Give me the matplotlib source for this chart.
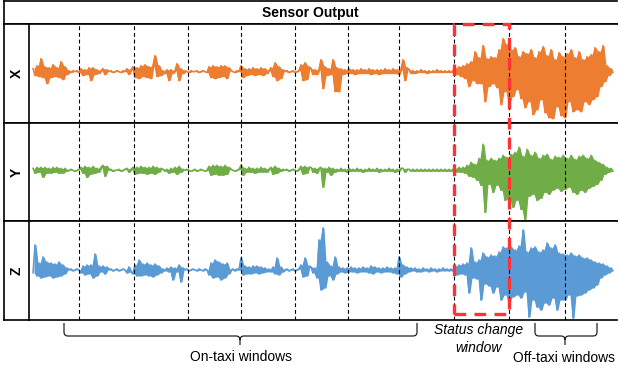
import matplotlib

matplotlib.use("Agg")

import matplotlib.pyplot as plt
import matplotlib.transforms as mtransforms
import numpy as np
from matplotlib.patches import PathPatch, Rectangle
from matplotlib.path import Path

plt.rcParams["font.family"] = ["Liberation Sans", "DejaVu Sans"]

# sensor traces, one sample every step, offset from the resting level
sensor_x = [
    3, -4, 6, -5, 13, -6, 5, -12, 4, -6, 7, -5, 4, -6, 10, -8, 5, -3,
    1, -1, 1, 0, 1, -1,
    3, -4, 2, -3, 4, -9, 4, -3, 2, -2, 1,
    3, -3, 2,
    0, 1, -1, 0, 1, 0, -1, 1, 0,
    3, -3, 2,
    5, -6, 4, -7, 6, -5, 7, -6, 5, -7, 6, 16, -5, 6, -4,
    1, -2, 2, -9, 2, -2, 1, 8, -9, 3, -2,
    1, 0, -1, 1, 0, 0, 1, -1, 0, 1, 0, -1,
    5, -6, 6, -7, 5, -6, 6, -5, 6, -7, 4,
    1, 0, -1, 1, 0,
    6, -6, 3, -4, 3, -3, 4, -4, 3, -3, 4, -4, 3, -2, 1,
    4, -5, 9, -9, 5, -7, 2,
    0, 1, -1, 0, 1, -1, 0, 1,
    7, -9, 9, -8, 5,
    3, -3, 2, -3, 2,
    12, -17, 5, -4, 3, -3, 12, -20, 4, -20,
    3, -3, 2, -2, 3, -2, 2, -3, 2, -2, 3, -2, 2, -2, 3, -3, 2, -2, 2, -3,
    2, -2, 3, -2, 2, -2, 3, -2, 2, -3, 2,
    12, -9, 4,
    2, -2, 1, -2, 1, -1, 2, -1, 1, -2, 1, -1, 1, -1, 2, -1, 1, -1, 1, -1, 1, -1, 1,
    4, -3, 5, -5, 6, -7, 8, -15, 10, -9, 20, -12, 14, -12, 26, -30, 13, -15,
    15, -12, 14, -16, 22, -33, 33, -20, 27, -31,
    22, -25, 24, -18, 15, -27, 20, -36, 18, -30, 22, -43, 14, -38, 20,
    -28, 25, -41, 16, -46, 22, -47, 12, -35, 19, -44, 15, -46, 18, -30,
    22, -40, 14, -38, 20, -40, 12, -30, 15, -33, 17, -28, 24, -25, 20,
    -15, 26, -10, 6, -4, 3, -1,
]

sensor_y = [
    2, -3, 3, -2, 3, -7, 3, -3, 2, -3, 3, -2, 3, -3, 2, -3, 2, -1,
    0, 1, 0, -1, 0, 1,
    3, -3, 4, -7, 3, -4, 4, -3, 2, -2, 3,
    5, -6, 4,
    0, 1, -1, 0, 0, 1, -1, 0, 1,
    2, -2, 1,
    3, -4, 3, -3, 4, -3, 3, -4, 3, -3, 4, -4, 3, -2, 2,
    1, -1, 1, -3, 2, -2, 3, -4, 4, -2, 1,
    0, 1, 0, -1, 0, 1, -1, 0, 1, 0, -1, 0,
    4, -5, 5, -4, 5, -5, 4, -5, 5, -4, 3,
    1, 0, -1, 0, 1,
    5, -5, 2, -2, 3, -2, 2, -3, 2, -2, 3, -2, 2, -2, 1,
    3, -4, 4, -3, 2, -1, 1,
    0, 1, -1, 0, 1, 0, -1, 1,
    4, -4, 4, -3, 3,
    3, -2, 2, -3, 2,
    3, -17, 2, -2, 3, -5, 2, -2, 1, -1,
    2, -1, 1, -2, 2, -1, 1, -1, 2, -1, 1, -2, 1, -1, 2, -1, 1, -1, 2, -2,
    1, -1, 1, -1, 2, -1, 1, -2, 1, -1, 2,
    2, -2, 1,
    1, -1, 1, -1, 1, -1, 1, -1, 1, -1, 1, -1, 1, -1, 1, -1, 1, -1, 1, -1, 1, -1, 1,
    2, -2, 3, -2, 3, -3, 5, -6, 8, -7, 6, -10, 12, -15, 26, -42, 10, -14,
    12, -22, 10, -15, 12, -20, 15, -30, 13, -28,
    16, -37, 18, -30, 23, -39, 14, -49, 21, -26, 15, -24, 18, -30, 12,
    -28, 15, -22, 16, -24, 11, -20, 14, -18, 13, -21, 15, -19, 12, -17,
    15, -22, 11, -24, 14, -20, 15, -22, 12, -18, 15, -16, 10, -14, 8,
    -10, 6, -4, 3, -2, 2, -1,
]

sensor_z = [
    -3, 25, -6, 7, -8, 13, -7, 8, -6, 7, -8, 6, -7, 8, -6, 5, -4, 2,
    0, 1, -1, 0, 1, 0,
    -3, 4, -5, 5, -4, 5, -8, 16, -6, 4, -2,
    4, -4, 3,
    0, 1, -1, 0, 1, -1, 0, 1, 0,
    -3, 3, -2,
    -4, 5, -6, 10, -6, 6, -5, 7, -6, 5, -7, 6, -5, 4, -3,
    1, -1, 2, -2, 3, -10, 2, -2, 5, -12, 2,
    0, 1, -1, 0, 1, 0, -1, 1, 0, -1, 1, 0,
    -5, 7, -8, 10, -7, 8, -10, 6, -8, 7, -4,
    0, 1, -1, 1, 0,
    12, -5, 4, -4, 3, -4, 4, -3, 4, -4, 3, -3, 2, -2, 1,
    -2, 3, -4, 12, -5, 3, -2,
    0, 1, -1, 0, 1, -1, 0, 1,
    5, -7, 12, -6, 4,
    3, -3, 2, -8, 30,
    -20, 42, -18, 8, -6, 4, -10, 13, -4, 3,
    -2, 2, -3, 2, -2, 3, -2, 2, -3, 2, -2, 3, -2, 2, -3, 4, -4, 3, -2, 2,
    -3, 2, -2, 3, -2, 2, -3, 2, -4, 13, -7,
    5, -4, 3,
    -2, 2, -1, 2, -2, 1, -2, 2, -1, 1, -2, 2, -1, 1, -2, 1, -1, 2, -1, 1, -1, 1, -1,
    4, -5, 5, -4, 6, -5, 7, -23, 22, -8, 8, -9, 10, -30, 17, -14, 13, -16,
    15, -23, 14, -17, 18, -30, 23, -25, 22, -33,
    23, -27, 20, -25, 24, -28, 40, -22, 18, -47, 22, -30, 23, -37, 18,
    -40, 20, -33, 27, -35, 22, -28, 25, -40, 17, -30, 16, -30, 15, -25,
    17, -48, 14, -26, 15, -25, 12, -23, 12, -20, 10, -18, 8, -15, 7,
    -8, 6, -5, 4, -3, 2, -1,
]

series = [sensor_x, sensor_y, sensor_z]
axis_names = ["X", "Y", "Z"]
colors = ["#ED7D31", "#70AD47", "#5B9BD5"]
y_limits = [(-51, 47.5), (-51, 47.5), (-50, 48.5)]

# window boundaries, in samples
window_edges = [23, 50.5, 77.5, 104, 131, 157.5, 183, 210.5, 238, 266]
status_window = (window_edges[7], window_edges[8])
x_limits = (-2, 292)

W, H = 618, 371
fig = plt.figure(figsize=(W / 100, H / 100), dpi=100)
# layout transform in pixels, origin top-left
px = mtransforms.Affine2D().scale(1 / W, -1 / H).translate(0, 1) + fig.transFigure


def fx(x):
    return x / W


def fy(y):
    return 1 - y / H


def frame(ax, lw=1.2, right=True):
    ax.set_xticks([])
    ax.set_yticks([])
    for name, sp in ax.spines.items():
        sp.set_linewidth(lw)
        sp.set_color("black")
    ax.spines["right"].set_visible(right)


left, col, right_edge = 4, 29, 617
rows = [24, 122.7, 221.3, 320]

title_ax = fig.add_axes([fx(left), fy(rows[0]), fx(right_edge) - fx(left), fy(1) - fy(rows[0])])
frame(title_ax, right=False)
title_ax.text(0.5, 0.5, "Sensor Output", ha="center", va="center",
              fontsize=10, fontweight="bold", transform=title_ax.transAxes)

axes = []
for i, (vals, name, c, yl) in enumerate(zip(series, axis_names, colors, y_limits)):
    top, bot = rows[i], rows[i + 1]
    lab = fig.add_axes([fx(left), fy(bot), fx(col) - fx(left), fy(top) - fy(bot)])
    frame(lab, right=False)
    lab.text(0.5, 0.5, name, rotation=90, ha="center", va="center",
             fontsize=10, fontweight="bold", transform=lab.transAxes)

    ax = fig.add_axes([fx(col), fy(bot), fx(right_edge) - fx(col), fy(top) - fy(bot)])
    frame(ax, right=False)
    v = np.asarray(vals, dtype=float)
    t = np.arange(len(v))
    # band covered by each pair of neighbouring samples
    tm = t[:-1] + 0.5
    ax.fill_between(tm, np.minimum(v[:-1], v[1:]), np.maximum(v[:-1], v[1:]),
                    color=c, lw=0)
    ax.plot(t, v, color=c, lw=1.1)
    for e in window_edges:
        ax.axvline(e, color="black", lw=0.8, ls=(0, (3.5, 2.5)), zorder=3)
    ax.set_xlim(*x_limits)
    ax.set_ylim(*yl)
    axes.append(ax)

# status change window box
blend = mtransforms.blended_transform_factory(axes[0].transData, px)
s0, s1 = status_window
fig.add_artist(Rectangle((s0, 314), s1 - s0, 24 - 314, transform=blend, fill=False,
                         edgecolor="#FF3333", lw=2.4, ls=(0, (3.5, 2.5)),
                         clip_on=False, zorder=5))


def brace(x0, x1, xm, y_top=323, y_line=336, y_tip=345, r=4):
    verts = [(x0, y_top), (x0, y_line - r), (x0, y_line), (x0 + r, y_line),
             (xm - r, y_line), (xm, y_line), (xm, y_line + r), (xm, y_tip),
             (xm, y_line + r), (xm, y_line), (xm + r, y_line),
             (x1 - r, y_line), (x1, y_line), (x1, y_line - r), (x1, y_top)]
    codes = [Path.MOVETO, Path.LINETO, Path.CURVE3, Path.CURVE3,
             Path.LINETO, Path.CURVE3, Path.CURVE3, Path.LINETO,
             Path.MOVETO, Path.CURVE3, Path.CURVE3,
             Path.LINETO, Path.CURVE3, Path.CURVE3, Path.LINETO]
    fig.add_artist(PathPatch(Path(verts, codes), fill=False, lw=0.9,
                             edgecolor="#222222", transform=px))


brace(64, 417, 240)
brace(535, 597, 565)

fig.text(241, 361, "On-taxi windows", transform=px, ha="center", va="baseline", fontsize=10)
fig.text(479, 334, "Status change", transform=px, ha="center", va="baseline",
         fontsize=10, style="italic")
fig.text(479, 351.5, "window", transform=px, ha="center", va="baseline",
         fontsize=10, style="italic")
fig.text(564, 362.5, "Off-taxi windows", transform=px, ha="center", va="baseline", fontsize=10)

fig.savefig("out.png", dpi=100)
plt.close(fig)
